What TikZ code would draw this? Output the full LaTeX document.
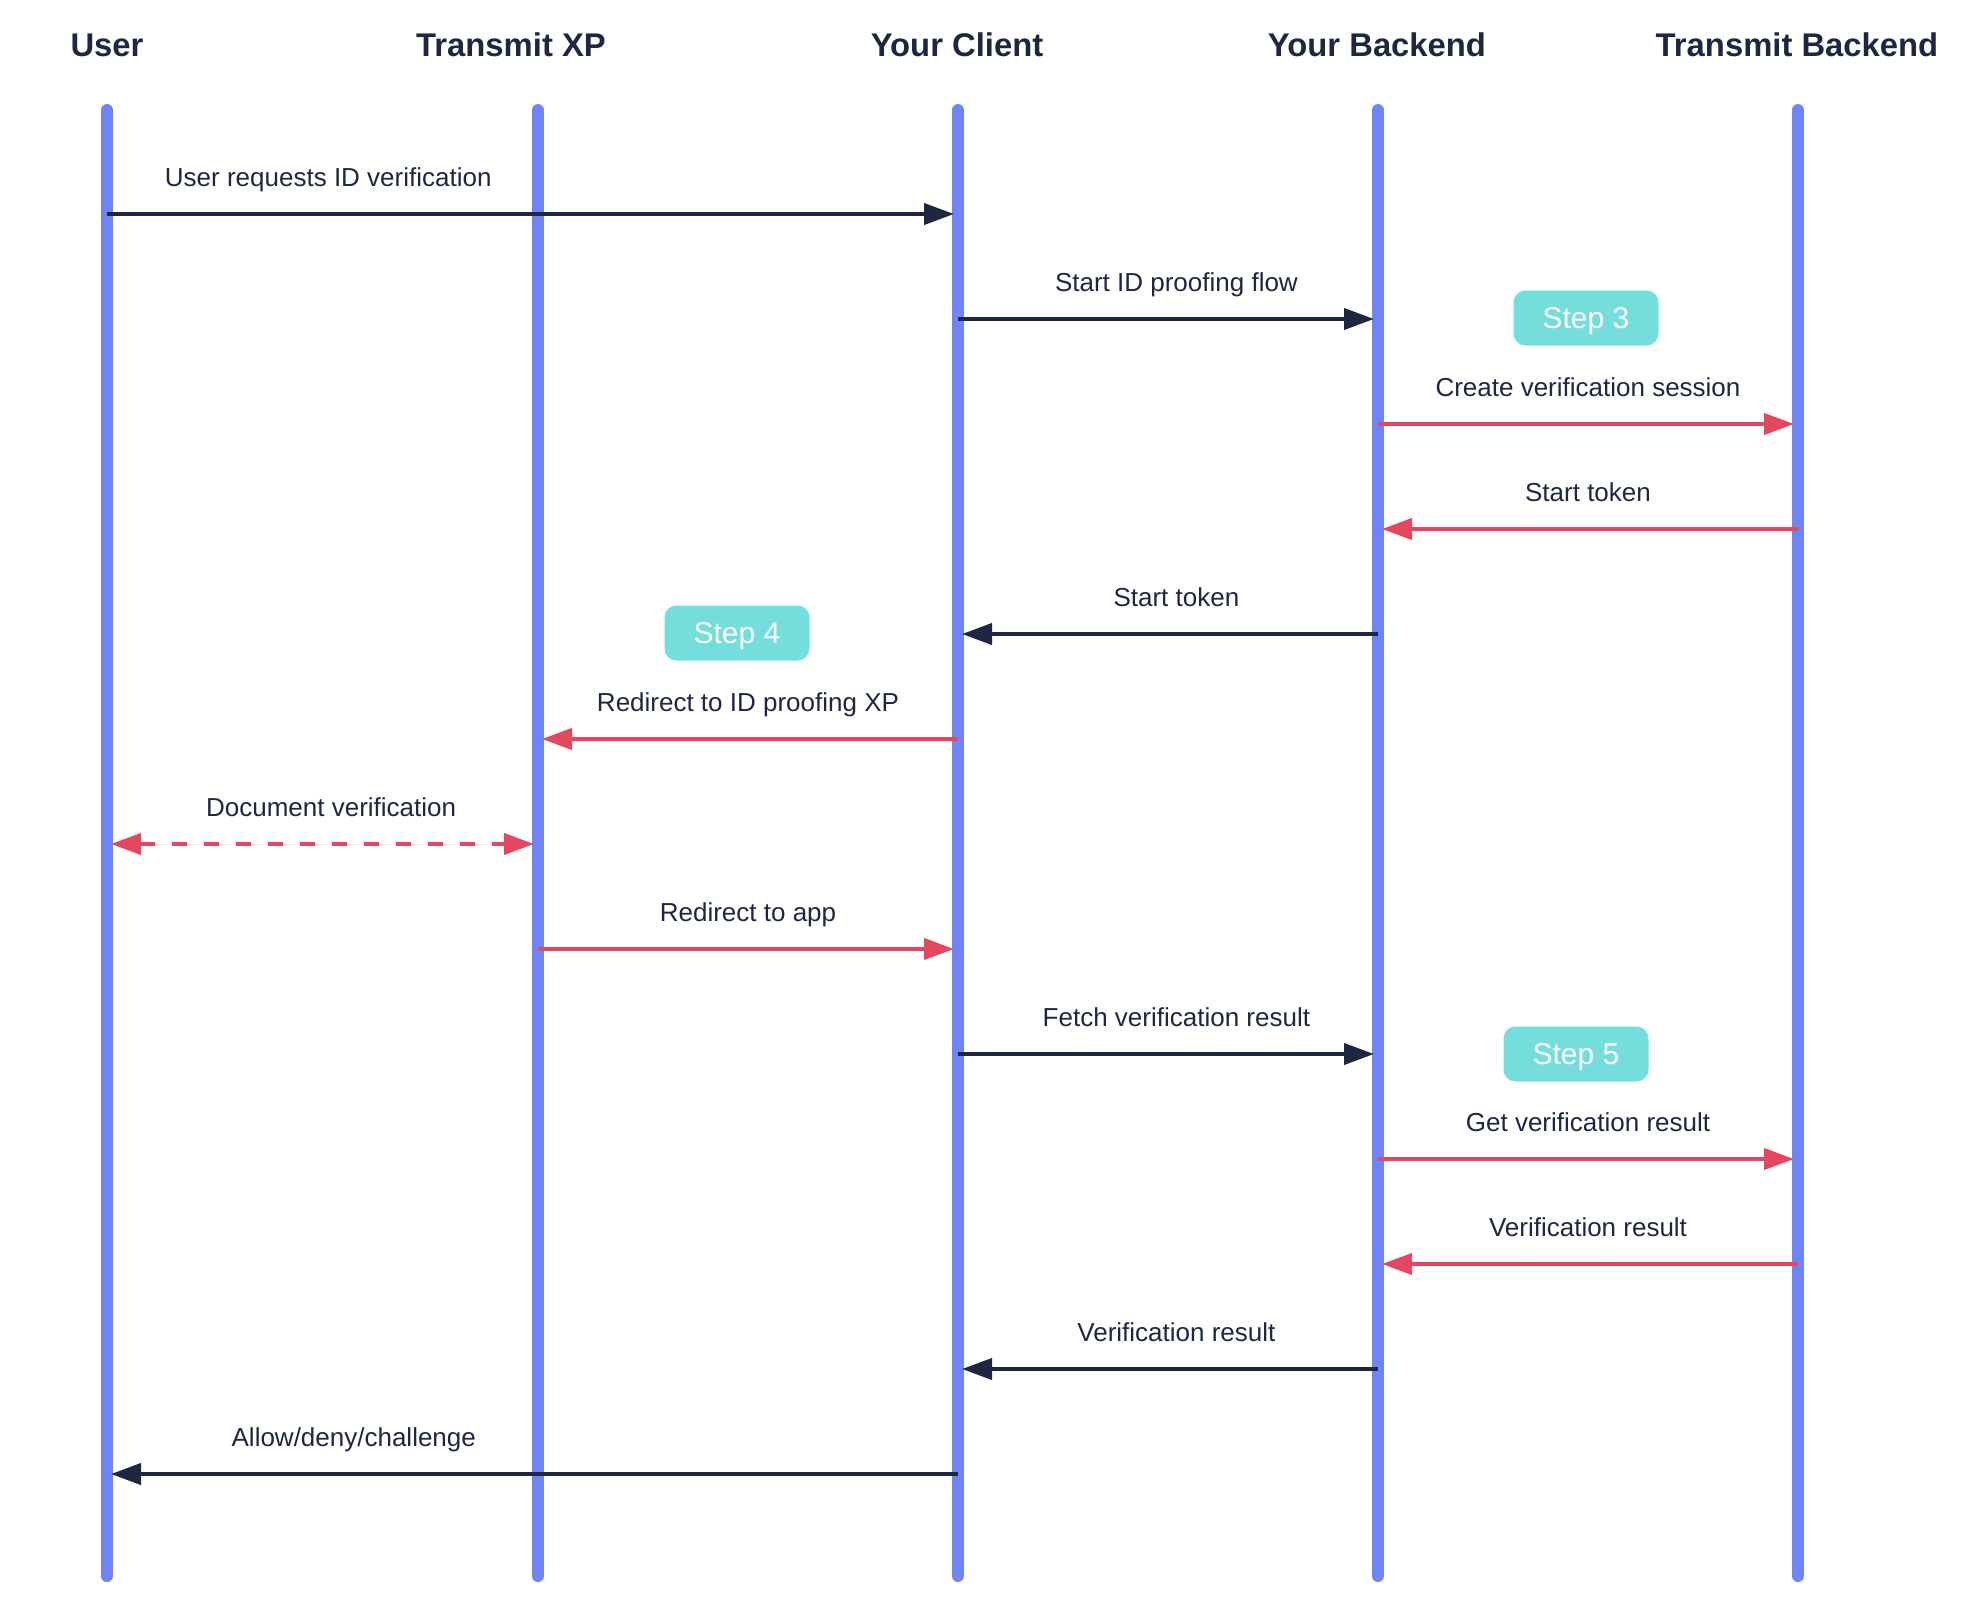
\documentclass[tikz,border=0pt]{standalone}
\usepackage{fontspec}
\setmainfont{Liberation Sans}
\usetikzlibrary{arrows.meta}

\definecolor{lifeblue}{HTML}{6F84F5}
\definecolor{navy}{HTML}{1E2742}
\definecolor{msgred}{HTML}{E5475F}
\definecolor{stepteal}{HTML}{74DEDD}

\tikzset{
  >={Triangle[length=15pt,width=10.5pt]},
  lifeline/.style={line width=6pt, draw=lifeblue, line cap=round},
  actor/.style={font=\bfseries\fontsize{16.4pt}{18pt}\selectfont, text=navy},
  msg/.style={line width=2pt, ->, shorten >=2pt},
  call/.style={msg, draw=navy, fill=navy},
  hop/.style={msg, draw=msgred, fill=msgred},
  lbl/.style={font=\fontsize{13pt}{15pt}\selectfont, text=navy, yshift=17.5pt,
    text height=9.5pt, text depth=2.5pt, inner sep=0pt},
  stepbox/.style={fill=stepteal, rounded corners=6pt, text=white,
    minimum width=72.5pt, minimum height=27.5pt, text height=10.8pt, text depth=0pt,
    font=\fontsize{15pt}{17pt}\selectfont}
}

\begin{document}
\begin{tikzpicture}[x=0.5pt, y=-0.5pt]

        \useasboundingbox (0,0) rectangle (1972,1614);

        \begin{scope}[every node/.style={actor}]
          \node (user)     at (107,45)  {User};
          \node (xp)       at (511,45)  {Transmit XP};
          \node (client)   at (957,45)  {Your Client};
          \node (backend)  at (1377,45) {Your Backend};
          \node (tbackend) at (1797,45) {Transmit Backend};
        \end{scope}

        % lifelines and one point per message row
        \foreach \n/\x in {usr/107, txp/538, cli/958, ybe/1378, tbe/1798} {
          \coordinate (\n-top) at (\x,110);
          \coordinate (\n-bot) at (\x,1576);
          \draw[lifeline] (\n-top) -- (\n-bot);
          \foreach \r in {1,...,13}
            \coordinate (\n\r) at (\x,{109+105*\r});
        }

        \begin{scope}[every node/.style={stepbox}]
          \node (step3) at (1586,318)  {Step 3};
          \node (step4) at (737,633)   {Step 4};
          \node (step5) at (1576,1054) {Step 5};
        \end{scope}

        \draw[call] (usr1)  -- node[lbl, pos=.26] {User requests ID verification} (cli1);
        \draw[call] (cli2)  -- node[lbl, pos=.52] {Start ID proofing flow} (ybe2);
        \draw[hop]  (ybe3)  -- node[lbl] {Create verification session} (tbe3);
        \draw[hop]  (tbe4)  -- node[lbl] {Start token} (ybe4);
        \draw[call] (ybe5)  -- node[lbl, pos=.48] {Start token} (cli5);
        \draw[hop]  (cli6)  -- node[lbl] {Redirect to ID proofing XP} (txp6);
        \draw[hop, <->, shorten <=2pt, dash pattern=on 7.5pt off 8.5pt]
                    (usr7)  -- node[lbl, pos=.52] {Document verification} (txp7);
        \draw[hop]  (txp8)  -- node[lbl] {Redirect to app} (cli8);
        \draw[call] (cli9)  -- node[lbl, pos=.52] {Fetch verification result} (ybe9);
        \draw[hop]  (ybe10) -- node[lbl] {Get verification result} (tbe10);
        \draw[hop]  (tbe11) -- node[lbl] {Verification result} (ybe11);
        \draw[call] (ybe12) -- node[lbl, pos=.48] {Verification result} (cli12);
        \draw[call] (cli13) -- node[lbl, pos=.71] {Allow/deny/challenge} (usr13);

\end{tikzpicture}
\end{document}
